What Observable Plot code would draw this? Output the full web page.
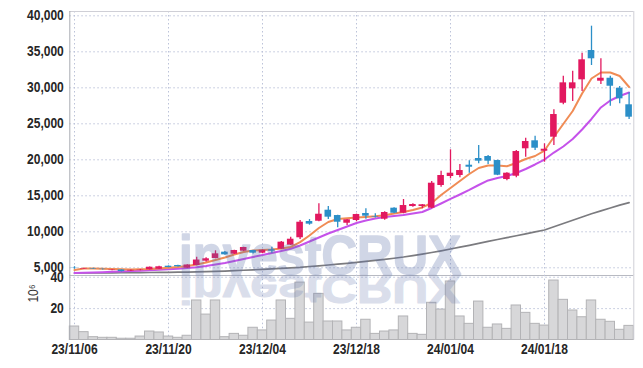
<!DOCTYPE html>
<html><head><meta charset="utf-8">
<script src="https://cdn.jsdelivr.net/npm/d3@7"></script>
<script src="https://cdn.jsdelivr.net/npm/@observablehq/plot@0.6"></script>
<style>
body{margin:0;background:#fff;}
#wrap{position:relative;width:643px;height:368px;overflow:hidden;background:#fff;}
#wrap > svg{position:absolute;left:0;}
</style></head><body><div id="wrap"></div>
<script>
const dates = ["23/11/06","23/11/07","23/11/08","23/11/09","23/11/10","23/11/13","23/11/14","23/11/15","23/11/16","23/11/17","23/11/20","23/11/21","23/11/22","23/11/23","23/11/24","23/11/27","23/11/28","23/11/29","23/11/30","23/12/01","23/12/04","23/12/05","23/12/06","23/12/07","23/12/08","23/12/11","23/12/12","23/12/13","23/12/14","23/12/15","23/12/18","23/12/19","23/12/20","23/12/21","23/12/22","23/12/26","23/12/27","23/12/28","24/01/02","24/01/03","24/01/04","24/01/05","24/01/08","24/01/09","24/01/10","24/01/11","24/01/12","24/01/15","24/01/16","24/01/17","24/01/18","24/01/19","24/01/22","24/01/23","24/01/24","24/01/25","24/01/26","24/01/29","24/01/30","24/01/31"];
const opens = [4980,4830,4900,4800,4620,4700,4550,4650,4720,4800, 5220,5320,4950,5320,5920,6290,7170,6890,7310,7400, 7030,7500,7580,8140,9170,11430,11470,13000,12260,11190, 11570,12540,12080,11750,13280,12580,13510,13510,13280,16430, 17680,17820,19250,20180,20460,19900,17260,17720,21530,22640, 21190,23140,27860,29860,31110,35180,30920,31330,29940,27640];
const highs = [5150,4950,4950,4850,4720,4720,4700,4780,5120,5200, 5260,5350,5420,6470,6390,7360,7250,7450,7850,7450, 7480,7860,8640,9250,11570,11700,13890,13510,12300,11700, 12450,13190,12500,12780,13350,14490,13900,13800,16990,18420, 21390,19350,19860,21990,20600,19950,18200,21290,23000,23280, 22220,26940,31610,32310,34800,38560,34030,31610,30180,29310];
const lows = [4800,4800,4800,4700,4580,4420,4500,4600,4700,4780, 5000,5100,4900,5280,5780,6250,6750,6850,7280,6900, 6950,7030,7540,8100,8930,10920,11400,11710,10560,10870, 11390,11750,11900,11600,12500,12500,13400,13190,13200,16190, 17360,17500,18140,19440,19350,17800,17100,17500,20360,21290, 19670,21990,27640,28100,29490,33100,30460,27440,27780,25600];
const closes = [4940,4900,4830,4750,4680,4470,4650,4700,5080,5140, 5040,5140,5390,6080,6250,6940,6800,7400,7820,7030, 7440,7310,8560,8970,11330,11060,12440,12030,11330,11670, 12400,12170,12000,12680,12580,13650,13790,13750,16750,17820, 18140,18510,18970,19810,19810,17860,18140,21150,22540,21610, 21470,26290,30690,30690,33890,34030,31330,30220,28470,25920];
const volumes = [8.6,5.0,1.8,1.4,1.4,0.8,0.8,2.2,5.4,4.8, 2.2,1.4,2.7,25.2,16.2,25.2,1.8,3.9,2.7,7.8, 6.1,12.4,25.2,13.5,36.6,11.1,29.4,11.8,11.8,6.1, 7.8,12.9,3.9,5.4,6.1,15.0,3.9,3.3,23.7,19.4, 37.3,15.0,10.3,24.5,7.8,9.9,7.1,22.0,17.3,10.3, 9.2,37.9,25.6,18.8,14.5,25.2,12.9,11.6,6.5,9.0];
const maShort = [4690,4900,4900,4860,4830,4790,4760,4790,4830,4900, 5000,5110,5250,5460,5740,6080,6430,6850,7190,7400, 7470,7540,7680,7890,8560,9490,10530,11360,11780,11880, 11990,12060,12150,12290,12540,12750,13030,13380,14000,15110, 16080,17060,18030,18860,19210,19210,19100,19560,20110,20530, 21290,23170,24970,26780,29210,31290,32130,32130,31640,30110];
const maMid = [4280,4320,4350,4390,4440,4490,4540,4600,4650,4720, 4790,4880,4970,5080,5250,5460,5670,5940,6220,6500, 6780,7060,7330,7640,8100,8650,9210,9760,10250,10740, 11220,11570,11850,12060,12200,12330,12540,12750,13310,13930, 14560,15180,15810,16500,17130,17470,17750,18170,18720,19350, 20040,21010,21850,22890,24210,25670,27270,28240,28860,29350];
const maLong = [4280,4285,4290,4295,4305,4320,4330,4340,4350,4360, 4375,4390,4410,4430,4460,4490,4540,4600,4660,4720, 4790,4860,4930,5000,5070,5180,5280,5390,5500,5620, 5740,5880,6020,6170,6330,6500,6700,6900,7120,7360, 7610,7860,8120,8390,8660,8930,9190,9450,9710,9980, 10250,10700,11150,11600,12050,12500,12900,13300,13700,14050];
const priceTicks = [5000,10000,15000,20000,25000,30000,35000,40000];
const volTicks = [20,40];
const labelIdx = [0,10,20,30,40,50];

const rows = dates.map((d,i)=>({i, date:d, open:opens[i], high:highs[i], low:lows[i], close:closes[i], vol:volumes[i], m1:maShort[i], m2:maMid[i], m3:maLong[i]}));

const FONT = '"Liberation Sans", Arial, sans-serif';
const UP = "#e2185f", DOWN = "#2b8fc8";
const GRID = "#bcc3d9", FRAME = "#cfcfd6", AXIS = "#a9abb3";
const colorOf = d => d.close >= d.open ? UP : DOWN;
const xDom = [-0.5, 59.5];
const wrap = document.getElementById("wrap");
const textStyle = {background: "transparent", fontFamily: FONT, fontSize: "14px", fontWeight: "bold", color: "#222", overflow: "visible"};

const main = Plot.plot({
  width: 643, height: 275,
  marginLeft: 69.3, marginRight: 9.7, marginTop: 11, marginBottom: 0,
  style: textStyle,
  x: {type: "linear", domain: xDom, axis: null},
  y: {domain: [3930, 40600], axis: null},
  color: {type: "identity"},
  marks: [
    Plot.gridY(priceTicks, {stroke: GRID, strokeOpacity: 1, strokeDasharray: "1.5,2.5"}),
    Plot.gridX(labelIdx, {stroke: GRID, strokeOpacity: 1, strokeDasharray: "1.5,2.5"}),
    Plot.axisY(priceTicks, {tickSize: 0, tickPadding: 6, tickFormat: d3.format(","), fill: "#262626", label: null}),
    Plot.lineY(rows, {x: "i", y: "m3", stroke: "#7b7b7f", strokeWidth: 1.7}),
    Plot.lineY(rows, {x: "i", y: "m2", stroke: "#c552ea", strokeWidth: 2}),
    Plot.lineY(rows, {x: "i", y: "m1", stroke: "#f08c55", strokeWidth: 2}),
    Plot.ruleX(rows, {x: "i", y1: "low", y2: "high", stroke: colorOf, strokeWidth: 1.3}),
    Plot.rectY(rows, {x1: d => d.i - 0.35, x2: d => d.i + 0.35, y1: "open", y2: "close", fill: colorOf}),
    Plot.ruleY([40600], {stroke: FRAME}),
    Plot.ruleY([3930], {stroke: "#b8bac2"}),
    Plot.ruleX([59.5], {stroke: FRAME}),
    Plot.ruleX([-0.5], {stroke: AXIS})
  ]
});
main.style.top = "0px";
wrap.appendChild(main);

const vol = Plot.plot({
  width: 643, height: 94,
  marginLeft: 69.3, marginRight: 9.7, marginTop: 0.7, marginBottom: 28.5,
  style: textStyle,
  x: {type: "linear", domain: xDom, axis: null},
  y: {domain: [0, 41.3], axis: null},
  marks: [
    Plot.gridY(volTicks, {stroke: GRID, strokeOpacity: 1, strokeDasharray: "1.5,2.5"}),
    Plot.gridX(labelIdx, {stroke: GRID, strokeOpacity: 1, strokeDasharray: "1.5,2.5"}),
    Plot.rectY(rows, {x1: d => d.i - 0.5, x2: d => d.i + 0.5, y1: 0, y2: "vol", fill: "#d7d7d9", stroke: "#b3b3b6", strokeWidth: 1}),
    Plot.axisY(volTicks, {tickSize: 0, tickPadding: 6, fill: "#262626", label: null}),
    Plot.axisX(labelIdx, {tickSize: 0, tickPadding: 4, tickFormat: i => dates[i], fill: "#262626", label: null}),
    Plot.text(["10⁶"], {frameAnchor: "left", dx: -36, dy: -5, rotate: -90, fontSize: 14, fontWeight: "normal", fill: "#333"}),
    Plot.ruleX([59.5], {stroke: FRAME}),
    Plot.ruleX([-0.5], {stroke: AXIS})
  ]
});
vol.style.top = "274px";
wrap.appendChild(vol);

// narrow the label glyphs (condensed look), keeping real text
for (const svg of [main, vol]) {
  svg.querySelectorAll("text").forEach(t => {
    const L = t.getComputedTextLength();
    if (L > 0) {
      t.setAttribute("textLength", (L * 0.86).toFixed(1));
      t.setAttribute("lengthAdjust", "spacingAndGlyphs");
    }
  });
}

// watermark
const NS = "http://www.w3.org/2000/svg";
const wm = document.createElementNS(NS, "svg");
wm.setAttribute("width", 643); wm.setAttribute("height", 368);
wm.style.top = "0px"; wm.style.pointerEvents = "none";
function wmText() {
  const t = document.createElementNS(NS, "text");
  t.setAttribute("x", 179); t.setAttribute("y", 273.5);
  t.setAttribute("textLength", 282); t.setAttribute("lengthAdjust", "spacingAndGlyphs");
  t.setAttribute("font-family", "Liberation Sans, Arial, sans-serif");
  t.setAttribute("font-weight", "bold"); t.setAttribute("font-size", 56);
  t.setAttribute("fill", "#5b6fa8"); t.setAttribute("stroke", "#5b6fa8");
  t.setAttribute("stroke-width", 1.6); t.setAttribute("stroke-linejoin", "round");
  t.textContent = "investCRUX";
  return t;
}
const g1 = document.createElementNS(NS, "g");
g1.setAttribute("opacity", 0.28);
g1.appendChild(wmText());
wm.appendChild(g1);
const g2 = document.createElementNS(NS, "g");
g2.setAttribute("opacity", 0.22);
g2.setAttribute("transform", "translate(0,274.5) scale(1,-0.72) translate(0,-274.5)");
g2.appendChild(wmText());
wm.appendChild(g2);
wrap.appendChild(wm);
</script></body></html>
